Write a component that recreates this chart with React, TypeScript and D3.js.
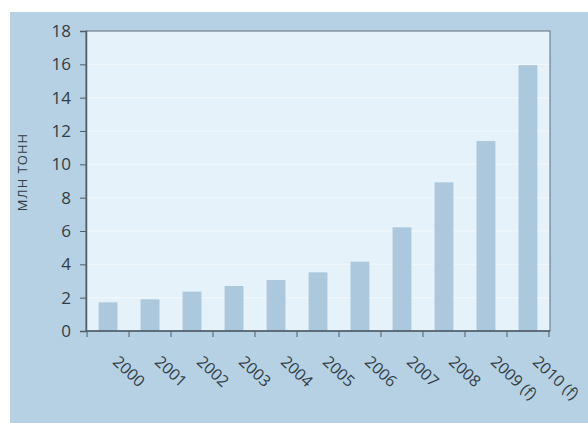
import { useRef, useEffect } from 'react';
import * as d3 from 'd3';

const years = ['2000', '2001', '2002', '2003', '2004', '2005', '2006', '2007', '2008', '2009 (f)', '2010 (f)'];
const values = [1.72, 1.9, 2.36, 2.7, 3.06, 3.52, 4.16, 6.22, 8.92, 11.4, 15.95];
const yTicks = [0, 2, 4, 6, 8, 10, 12, 14, 16, 18];
const yLabel = 'МЛН ТОНН';

export default function App() {
  const svgRef = useRef<SVGSVGElement>(null);

  useEffect(() => {
    if (!svgRef.current) return;
    const svg = d3.select(svgRef.current);
    svg.selectAll('*').remove();

    const width = 588;
    const height = 423;
    const margin = { top: 31, right: 38, bottom: 92, left: 86 };
    const innerWidth = width - margin.left - margin.right;
    const innerHeight = height - margin.top - margin.bottom;
    const font = "'Open Sans', sans-serif";

    // outer panel
    svg.append('rect').attr('width', width).attr('height', height).attr('fill', '#ffffff');
    svg.append('rect')
      .attr('x', 10).attr('y', 12)
      .attr('width', width - 10).attr('height', height - 12)
      .attr('fill', '#b6d1e4');

    const g = svg.append('g').attr('transform', `translate(${margin.left},${margin.top})`);

    const x = d3.scaleBand<string>().domain(years).range([0, innerWidth]).paddingInner(0.55).paddingOuter(0.3);
    const y = d3.scaleLinear().domain([0, 18]).range([innerHeight, 0]);

    // plot background
    g.append('rect')
      .attr('width', innerWidth).attr('height', innerHeight)
      .attr('fill', '#e6f2f9');

    // faint gridlines
    g.selectAll('.grid')
      .data(yTicks.slice(1, -1))
      .enter()
      .append('line')
      .attr('x1', 0).attr('x2', innerWidth)
      .attr('y1', (d) => y(d)).attr('y2', (d) => y(d))
      .attr('stroke', '#f2f8fc')
      .attr('stroke-width', 1);

    // bars
    g.selectAll('.bar')
      .data(values)
      .enter()
      .append('rect')
      .attr('x', (_d, i) => x(years[i]) as number)
      .attr('width', x.bandwidth())
      .attr('y', (d) => y(d))
      .attr('height', (d) => innerHeight - y(d))
      .attr('fill', '#abc8dc');

    // frame
    g.append('rect')
      .attr('width', innerWidth).attr('height', innerHeight)
      .attr('fill', 'none')
      .attr('stroke', '#5d6f7b')
      .attr('stroke-width', 1);

    // y axis
    const yAxis = d3.axisLeft(y).tickValues(yTicks).tickSize(6).tickPadding(9);
    const ya = g.append('g').call(yAxis).attr('font-size', null).attr('font-family', null);
    ya.select('.domain').attr('stroke', '#4f5e69').attr('stroke-width', 1.5);
    ya.selectAll('.tick line').attr('stroke', '#4f5e69');
    ya.selectAll('.tick text')
      .attr('fill', '#333d44')
      .style('font-size', '17px')
      .style('font-family', font);

    // x axis: ticks at category boundaries
    const step = x.step();
    const boundaries = d3.range(years.length + 1).map((i) => (x(years[0]) as number) - (step - x.bandwidth()) / 2 + i * step);
    g.append('line')
      .attr('x1', 0).attr('x2', innerWidth)
      .attr('y1', innerHeight).attr('y2', innerHeight)
      .attr('stroke', '#4f5e69').attr('stroke-width', 1.5);
    g.selectAll('.xtick')
      .data(boundaries)
      .enter()
      .append('line')
      .attr('x1', (d) => Math.max(0, Math.min(innerWidth, d)))
      .attr('x2', (d) => Math.max(0, Math.min(innerWidth, d)))
      .attr('y1', innerHeight).attr('y2', innerHeight + 6)
      .attr('stroke', '#4f5e69');

    g.selectAll('.xlabel')
      .data(years)
      .enter()
      .append('text')
      .attr('transform', (d) => `translate(${(x(d) as number) + x.bandwidth() / 2 + 13},${innerHeight + 22}) rotate(43)`)
      .attr('text-anchor', 'start')
      .attr('dominant-baseline', 'hanging')
      .attr('fill', '#333d44')
      .style('font-size', '16px')
      .style('font-family', font)
      .text((d) => d);

    // y label
    svg.append('text')
      .attr('transform', `translate(27,172) rotate(-90)`)
      .attr('text-anchor', 'middle')
      .attr('fill', '#333d44')
      .style('font-size', '13px')
      .style('letter-spacing', '1px')
      .style('font-family', font)
      .text(yLabel);
  }, []);

  return <svg ref={svgRef} width={588} height={423} style={{ position: 'absolute', left: 0, top: 0 }} />;
}
